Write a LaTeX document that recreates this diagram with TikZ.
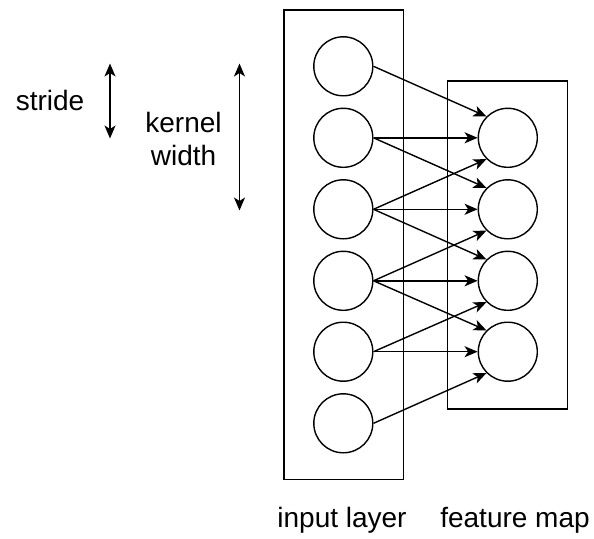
\documentclass[tikz,border=0pt]{standalone}
\usepackage{fontspec}
\setmainfont{Liberation Sans}
\usetikzlibrary{arrows.meta}
\begin{document}
\begin{tikzpicture}[x=1pt,y=-1pt,
  lw/.style={line width=1.4pt},
  layerbox/.style={draw,lw},
  neuron/.style={circle,draw,lw,minimum size=59pt,inner sep=0pt},
  tip/.style={Stealth[length=13pt,width=11pt,inset=3.5pt]},
  conn/.style={lw,-{Stealth[length=13pt,width=11pt,inset=3.5pt]}},
  measure/.style={lw,{Stealth[length=13pt,width=11pt,inset=3.5pt]}-{Stealth[length=13pt,width=11pt,inset=3.5pt]}},
  label/.style={font=\fontsize{28}{33}\selectfont,inner sep=0pt}]
  \useasboundingbox (0,0) rectangle (594,538);

  % layer frames
  \draw[layerbox] (284,10) rectangle (403.3,479.5);
  \draw[layerbox] (447.7,81) rectangle (567.3,409);

  % input neurons
  \foreach \i/\y in {1/66.3,2/137.8,3/209.3,4/280.8,5/351.7,6/423.3}
    \node[neuron] (in\i) at (343.3,\y) {};
  % feature map neurons
  \foreach \j/\y in {1/137.8,2/209.3,3/280.8,4/351.7}
    \node[neuron] (fm\j) at (507.8,\y) {};

  % kernel of width 3, stride 1
  \foreach \j in {1,...,4}{
    \pgfmathtruncatemacro{\a}{\j}
    \pgfmathtruncatemacro{\b}{\j+1}
    \pgfmathtruncatemacro{\c}{\j+2}
    \draw[conn] (in\a.east) -- (fm\j.north west);
    \draw[conn] (in\b.east) -- (fm\j.west);
    \draw[conn] (in\c.east) -- (fm\j.south west);
  }

  % stride and kernel width markers
  \coordinate (s1) at (110,63.5);
  \coordinate (s2) at (110,138.5);
  \coordinate (k1) at (239.5,63.5);
  \coordinate (k2) at (239.5,210.5);
  \draw[measure] (s1) -- (s2);
  \draw[measure] (k1) -- (k2);

  \node[label,anchor=base] (stride) at (50,110) {stride};
  \node[label,align=center] (kernel) at (183.5,138.5) {kernel\\width};

  \node[label,anchor=base] (inlabel) at (342,527) {input layer};
  \node[label,anchor=base] (fmlabel) at (515,527) {feature map};
\end{tikzpicture}
\end{document}
